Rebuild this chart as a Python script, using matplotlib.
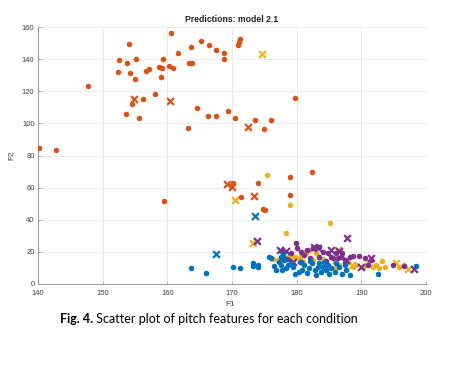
import matplotlib
matplotlib.use("Agg")
import matplotlib.pyplot as plt

# ---- data (F1, F2) per condition ----
orange_dots_x = [140.2, 142.8, 147.8, 152.4, 152.5, 153.7, 154.0, 154.2, 155.0, 155.1, 153.6, 154.5,
                 155.6, 156.2, 156.7, 157.1, 158.1, 158.7, 159.0, 159.1, 159.4, 160.3, 160.5, 160.8,
                 161.6, 163.2, 163.4, 163.8, 163.7, 164.6, 165.2, 166.3, 166.5, 167.6, 167.6, 168.7,
                 168.7, 169.4, 171.2, 171.1, 171.0, 179.8, 170.5, 173.5, 174.9, 176.1, 159.5,
                 170.2, 171.4, 174.0, 174.8, 175.1, 178.9, 182.3, 179.0]
orange_dots_y = [84.5, 83.2, 123.1, 131.8, 139.5, 137.8, 149.3, 131.2, 127.6, 140.3, 105.8, 111.8,
                 103.2, 115.4, 132.8, 134.1, 118.5, 134.9, 128.7, 134.4, 140.1, 136.0, 156.1, 134.5,
                 144.0, 97.3, 137.4, 137.8, 147.8, 109.4, 151.1, 104.8, 148.6, 104.8, 145.5, 144.0,
                 140.3, 107.7, 152.8, 150.9, 148.9, 115.6, 103.2, 101.9, 96.5, 102.3, 51.7,
                 63.1, 54.4, 62.9, 47.0, 45.9, 66.4, 69.5, 55.2]
orange_x_x = [154.8, 160.4, 172.5, 169.2, 170.0, 173.4]
orange_x_y = [115.4, 113.9, 97.9, 62.5, 60.6, 55.0]

yellow_dots_x = [175.4, 178.9, 185.2, 178.3, 176.3, 177.1, 178.1, 178.4, 178.9, 179.2, 179.7, 180.5,
                 181.0, 181.5, 182.0, 182.5, 183.5, 184.6, 185.9, 186.6, 187.7, 188.7, 189.2, 190.2,
                 190.7, 191.8, 192.3, 192.8, 193.2, 193.6, 195.9, 196.6, 179.5, 183.0,
                 184.0, 186.0, 188.0, 191.0]
yellow_dots_y = [67.9, 49.0, 38.2, 31.6, 15.3, 14.9, 17.4, 16.0, 18.0, 14.9, 17.0, 16.0,
                 13.9, 19.1, 21.1, 14.9, 17.0, 11.8, 13.9, 11.8, 12.9, 10.8, 11.8, 10.8,
                 11.8, 10.4, 11.8, 9.7, 14.3, 10.4, 10.8, 11.8, 12.5, 19.5,
                 15.5, 10.0, 13.5, 12.8]
yellow_x_x = [174.6, 170.5, 173.2, 186.4, 195.4, 197.2, 180.8, 188.5]
yellow_x_y = [143.0, 52.3, 25.5, 21.1, 12.9, 9.1, 19.0, 12.0]

purple_dots_x = [177.9, 179.2, 179.9, 180.0, 180.7, 181.2, 181.6, 182.5, 183.0, 183.5, 184.1, 184.8,
                 185.3, 185.6, 186.1, 186.4, 186.9, 187.4, 188.2, 188.7, 189.7, 190.5, 191.0, 191.5,
                 194.9, 196.6, 183.5, 182.0, 180.7, 178.5, 184.5, 187.0]
purple_dots_y = [20.1, 19.1, 25.7, 22.6, 20.1, 18.0, 21.1, 22.2, 23.2, 23.2, 20.1, 19.1,
                 16.6, 16.0, 19.1, 16.0, 17.0, 14.9, 16.6, 17.6, 17.4, 16.0, 11.8, 14.9,
                 11.8, 11.2, 17.0, 16.0, 13.9, 15.5, 14.5, 19.5]
purple_x_x = [177.4, 178.3, 182.7, 183.3, 185.3, 186.6, 187.7, 190.0, 191.5, 198.2, 179.4, 187.8, 173.8]
purple_x_y = [21.1, 20.7, 22.8, 22.6, 21.1, 20.5, 14.9, 10.8, 16.0, 9.1, 13.9, 28.8, 26.8]

blue_dots_x = [163.7, 166.0, 170.2, 171.2, 173.3, 173.3, 174.0, 174.0, 175.7,
               176.5, 176.8, 177.3, 177.5, 177.8, 178.1, 178.4, 178.7, 179.1, 179.4, 180.3, 180.5,
               181.2, 181.6, 181.9, 182.3, 182.8, 183.0, 183.3, 183.5, 183.8, 184.1, 184.3, 184.6,
               184.8, 185.3, 185.9, 186.1, 186.6, 187.4, 187.7, 188.2, 192.5, 198.5, 177.5,
               176.0, 180.8, 185.0, 187.0, 182.0, 179.7]
blue_dots_y = [10.0, 6.8, 10.8, 9.7, 11.5, 13.0, 10.5, 12.0, 17.0,
               11.2, 8.7, 13.9, 11.8, 8.7, 14.9, 9.7, 11.8, 12.9, 10.8, 7.7, 13.9,
               11.8, 6.6, 9.7, 12.9, 8.7, 5.6, 10.8, 12.9, 7.7, 10.8, 13.9, 8.7,
               11.8, 9.7, 7.7, 12.9, 10.8, 11.8, 8.7, 5.6, 6.0, 11.0, 17.0,
               16.0, 9.0, 6.5, 6.0, 14.5, 6.5]
blue_x_x = [167.6, 173.6, 177.9]
blue_x_y = [18.7, 42.2, 18.0]

x_ticks = [140, 150, 160, 170, 180, 190, 200]
y_ticks = [0, 20, 40, 60, 80, 100, 120, 140, 160]

C_BLUE = "#0072BD"
C_ORANGE = "#D95319"
C_YELLOW = "#EDB120"
C_PURPLE = "#7E2F8E"

W, H = 463, 382
fig = plt.figure(figsize=(W / 100, H / 100), dpi=100)
fig.patch.set_facecolor("white")
ax = fig.add_axes([38 / W, 1 - 284 / H, (426 - 38) / W, (284 - 27) / H])

dot_s = 16
x_s = 24
groups = [
    (C_YELLOW, yellow_dots_x, yellow_dots_y, yellow_x_x, yellow_x_y),
    (C_PURPLE, purple_dots_x, purple_dots_y, purple_x_x, purple_x_y),
    (C_BLUE, blue_dots_x, blue_dots_y, blue_x_x, blue_x_y),
    (C_ORANGE, orange_dots_x, orange_dots_y, orange_x_x, orange_x_y),
]
for c, dx, dy, xx, xy in groups:
    ax.scatter(dx, dy, s=dot_s, c=c, marker="o", linewidths=0, zorder=3)
    ax.scatter(xx, xy, s=x_s, c=c, marker="x", linewidths=1.6, zorder=3)

ax.set_xlim(140, 200)
ax.set_ylim(0, 160)
ax.set_xticks(x_ticks)
ax.set_yticks(y_ticks)
ax.grid(True, color="#e8e8e8", linewidth=0.6)
ax.set_axisbelow(True)
for s in ["top", "right"]:
    ax.spines[s].set_visible(False)
for s in ["left", "bottom"]:
    ax.spines[s].set_color("#a0a0a0")
    ax.spines[s].set_linewidth(0.8)
ax.tick_params(direction="in", length=2.5, width=0.6, color="#a0a0a0",
               labelsize=5.5, labelcolor="#404040")
ax.tick_params(axis="x", pad=4)
ax.tick_params(axis="y", pad=2.5)
for lab in ax.get_xticklabels() + ax.get_yticklabels():
    lab.set_fontfamily("Liberation Sans")

fig.text(232 / W, 1 - 20 / H, "Predictions: model 2.1", ha="center", va="center",
         fontsize=6.2, fontweight="bold", family="Liberation Sans", color="#202020")
fig.text(230 / W, 1 - 304 / H, "F1", ha="center", va="center", fontsize=6,
         family="Liberation Sans", color="#404040")
fig.text(12 / W, 1 - 155 / H, "F2", ha="center", va="center", fontsize=6, rotation=90,
         family="Liberation Sans", color="#404040")

# caption
fig.canvas.draw()
r = fig.canvas.get_renderer()
cap_fs = 9.0
t1 = fig.text(60 / W, 1 - 319 / H, "Fig. 4.", ha="left", va="center", fontsize=cap_fs,
              fontweight="bold", family="Lato", color="black")
bb = t1.get_window_extent(renderer=r)
fig.text(bb.x1 / W, 1 - 319 / H, " Scatter plot of pitch features for each condition",
         ha="left", va="center", fontsize=cap_fs, family="Lato", color="black")

fig.savefig("out.png", dpi=100, facecolor="white")
